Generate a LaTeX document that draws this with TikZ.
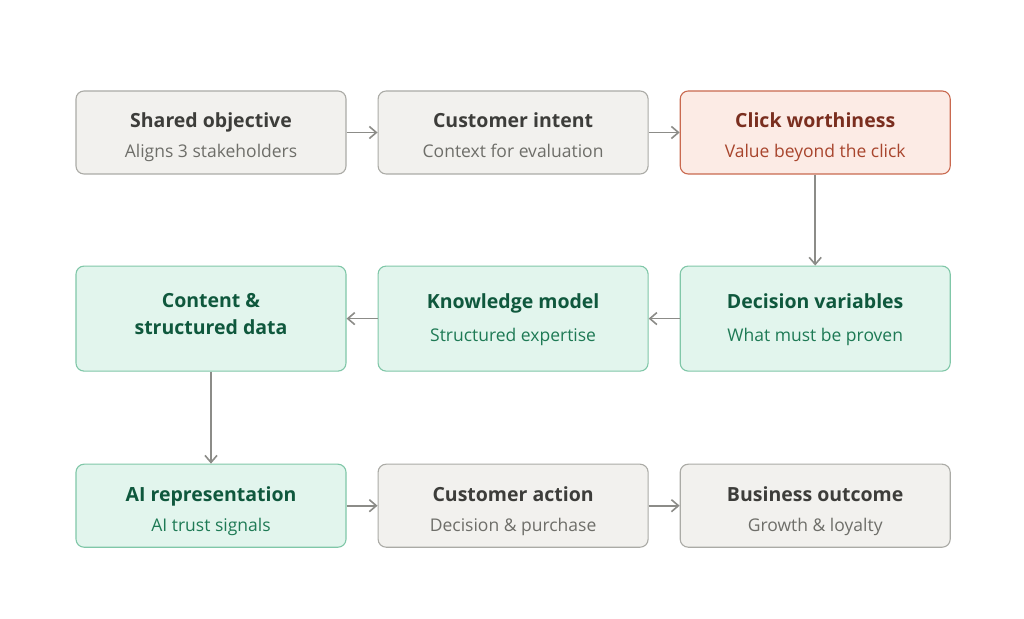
\documentclass[tikz,border=0pt]{standalone}
\usepackage{fontspec}
\setmainfont{Open Sans}
\usetikzlibrary{positioning, arrows.meta}
\definecolor{grayfill}{HTML}{F2F1EE}
\definecolor{grayline}{HTML}{ABABA6}
\definecolor{grayhead}{HTML}{3D3D3A}
\definecolor{graysub}{HTML}{6E6E69}
\definecolor{redfill}{HTML}{FCEBE5}
\definecolor{redline}{HTML}{C9694F}
\definecolor{redhead}{HTML}{7A2E1F}
\definecolor{redsub}{HTML}{A8452D}
\definecolor{greenfill}{HTML}{E2F5ED}
\definecolor{greenline}{HTML}{80C7A8}
\definecolor{greenhead}{HTML}{0F583D}
\definecolor{greensub}{HTML}{1E7A55}
\definecolor{arrowgray}{HTML}{8C8C88}
\newcommand{\sbt}{\fontsize{17.5}{30}\mdseries\selectfont}
% struts: altura de la primera linea y profundidad de la ultima
\newcommand{\up}{\rule{0pt}{25pt}}
\newcommand{\dn}[1]{\rule[-#1]{0pt}{#1}}
\tikzset{
  box/.style={rectangle, rounded corners=8pt, minimum width=270pt, minimum height=83pt, inner sep=0pt, text centered, align=center, line width=1.1pt, font={\fontsize{19.5}{30}\bfseries\selectfont}},
  graybox/.style={box, draw=grayline, fill=grayfill, text=grayhead},
  redbox/.style={box, draw=redline, fill=redfill, text=redhead},
  greenbox/.style={box, draw=greenline, fill=greenfill, text=greenhead},
  tall/.style={minimum height=105pt},
  arrow/.style={line width=1.8pt, draw=arrowgray, -{Straight Barb[length=7pt,width=12pt,line width=1.6pt]}}
}
\begin{document}
\begin{tikzpicture}[x=1pt, y=1pt, node distance=31pt]
        \useasboundingbox [fill=white] (0,0) rectangle (1024,618);

        % Fila 1
        \node (shared) [graybox] at (211,485.5) {\up Shared objective\\{\sbt\color{graysub}Aligns 3 stakeholders\dn{4pt}}};
        \node (intent) [graybox, right=of shared] {\up Customer intent\\{\sbt\color{graysub}Context for evaluation\dn{4pt}}};
        \node (click) [redbox, right=of intent] {\up Click worthiness\\{\sbt\color{redsub}Value beyond the click\dn{4pt}}};

        % Fila 2
        \node (decision) [greenbox, tall, below=91pt of click] {\up Decision variables\\[2.3pt]{\sbt\color{greensub}What must be proven\dn{12.3pt}}};
        \node (knowledge) [greenbox, tall, left=of decision] {\up Knowledge model\\[2.3pt]{\sbt\color{greensub}Structured expertise\dn{12.3pt}}};
        \node (content) [greenbox, tall, left=of knowledge] {\up Content \&\\[-3.4pt]structured data\dn{20pt}};

        % Fila 3
        \node (airep) [greenbox, below=92pt of content] {\up AI representation\\{\sbt\color{greensub}AI trust signals\dn{4pt}}};
        \node (action) [graybox, right=of airep] {\up Customer action\\{\sbt\color{graysub}Decision \& purchase\dn{4pt}}};
        \node (outcome) [graybox, right=of action] {\up Business outcome\\{\sbt\color{graysub}Growth \& loyalty\dn{4pt}}};

        % Flechas
        \draw [arrow] (shared) -- (intent);
        \draw [arrow] (intent) -- (click);
        \draw [arrow] (click) -- (decision);
        \draw [arrow] (decision) -- (knowledge);
        \draw [arrow] (knowledge) -- (content);
        \draw [arrow] (content) -- (airep);
        \draw [arrow] (airep) -- (action);
        \draw [arrow] (action) -- (outcome);
\end{tikzpicture}
\end{document}
